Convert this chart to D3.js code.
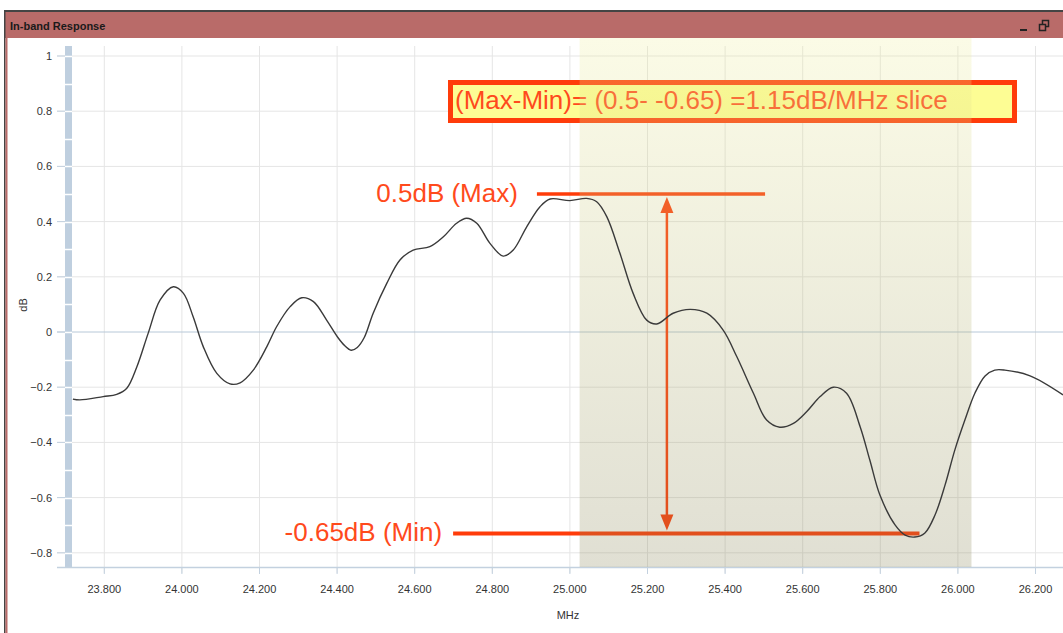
<!DOCTYPE html>
<html>
<head>
<meta charset="utf-8">
<script src="https://cdn.jsdelivr.net/npm/d3@7/dist/d3.min.js"></script>
<style>
  body { margin: 0; background: #fff; }
  svg { display: block; font-family: "Liberation Sans", Arial, sans-serif; }
</style>
</head>
<body>
<div id="viz"></div>
<script>
// curve: frequency (MHz) and response (dB)
var freq = [23.719, 23.737, 23.797, 23.832, 23.858, 23.884, 23.913, 23.944, 23.978, 24.004,
            24.029, 24.055, 24.090, 24.124, 24.150, 24.184, 24.219, 24.244, 24.279, 24.309,
            24.339, 24.373, 24.402, 24.420, 24.436, 24.452, 24.470, 24.493, 24.528, 24.562, 24.596, 24.639,
            24.674, 24.708, 24.734, 24.760, 24.794, 24.828, 24.854, 24.889, 24.923, 24.949,
            25.000, 25.043, 25.069, 25.095, 25.129, 25.163, 25.198, 25.224, 25.266, 25.310,
            25.353, 25.395, 25.430, 25.473, 25.507, 25.541, 25.576, 25.610, 25.645, 25.679,
            25.713, 25.748, 25.773, 25.799, 25.838, 25.864, 25.889, 25.915, 25.941, 25.967,
            25.992, 26.018, 26.044, 26.070, 26.095, 26.121, 26.186, 26.271];
var dB = [-0.243, -0.246, -0.234, -0.226, -0.204, -0.126, -0.005, 0.116, 0.164, 0.140,
          0.055, -0.053, -0.150, -0.188, -0.184, -0.138, -0.053, 0.019, 0.092, 0.124,
          0.110, 0.043, -0.020, -0.050, -0.066, -0.056, -0.020, 0.068, 0.176, 0.261, 0.297, 0.309,
          0.345, 0.394, 0.412, 0.394, 0.321, 0.275, 0.297, 0.382, 0.454, 0.482,
          0.476, 0.484, 0.472, 0.418, 0.285, 0.140, 0.043, 0.029, 0.068, 0.082,
          0.068, 0.007, -0.089, -0.222, -0.319, -0.345, -0.331, -0.289, -0.234, -0.200,
          -0.222, -0.343, -0.464, -0.591, -0.699, -0.736, -0.743, -0.728, -0.663, -0.554,
          -0.428, -0.319, -0.221, -0.159, -0.138, -0.138, -0.159, -0.228];

var xTicks = [23.8, 24.0, 24.2, 24.4, 24.6, 24.8, 25.0, 25.2, 25.4, 25.6, 25.8, 26.0, 26.2];
var yTicks = [-0.8, -0.6, -0.4, -0.2, 0, 0.2, 0.4, 0.6, 0.8, 1];
var yMinor = [-0.8, -0.7, -0.6, -0.5, -0.4, -0.3, -0.2, -0.1, 0, 0.1, 0.2, 0.3, 0.4, 0.5, 0.6, 0.7, 0.8, 0.9, 1];

// highlighted slice and annotation values
var slice = [25.025, 26.035];
var maxVal = 0.5, minVal = -0.73;
var maxLine = [24.915, 25.503];
var minLine = [24.699, 25.901];
var arrowAt = 25.25;
var title = "In-band Response";
var boxText = "(Max-Min)= (0.5- -0.65) =1.15dB/MHz slice";
var maxLabel = "0.5dB (Max)", minLabel = "-0.65dB (Min)";

var W = 1063, H = 633;
var plot = {left: 72, right: 1063, top: 46, bottom: 567};

var x = d3.scaleLinear().domain([23.8, 26.2]).range([104.3, 1035.5]);
var y = d3.scaleLinear().domain([-0.8, 1]).range([552.8, 56]);

var svg = d3.select('#viz').append('svg')
    .attr('width', W).attr('height', H);

var defs = svg.append('defs');
var grad = defs.append('linearGradient').attr('id', 'shade')
    .attr('x1', 0).attr('y1', 0).attr('x2', 0).attr('y2', 1);
grad.append('stop').attr('offset', '0%').attr('stop-color', '#efef9b');
grad.append('stop').attr('offset', '100%').attr('stop-color', '#837f4f');

defs.append('clipPath').attr('id', 'clip')
  .append('rect').attr('x', plot.left).attr('y', plot.top)
    .attr('width', plot.right - plot.left).attr('height', plot.bottom - plot.top);

// window frame
svg.append('rect').attr('x', 4).attr('y', 10).attr('width', W).attr('height', 2).attr('fill', '#444');
svg.append('rect').attr('x', 4).attr('y', 12).attr('width', W).attr('height', 26).attr('fill', '#b96b69');
svg.append('rect').attr('x', 4).attr('y', 10).attr('width', 1.5).attr('height', H).attr('fill', '#444');
svg.append('rect').attr('x', 5.5).attr('y', 38).attr('width', 2).attr('height', H).attr('fill', '#b96b69');

svg.append('text').attr('x', 10).attr('y', 30)
    .style('font-size', '11px').style('font-weight', 'bold').attr('fill', '#1a1a1a')
    .text(title);
svg.append('rect').attr('x', 1020).attr('y', 29).attr('width', 7).attr('height', 2).attr('fill', '#222');
svg.append('rect').attr('x', 1042.5).attr('y', 20.5).attr('width', 6).attr('height', 6)
    .attr('fill', 'none').attr('stroke', '#222').attr('stroke-width', 1.5);
svg.append('rect').attr('x', 1039.5).attr('y', 24.5).attr('width', 6).attr('height', 6)
    .attr('fill', '#b96b69').attr('stroke', '#222').attr('stroke-width', 1.5);

// grid
var grid = svg.append('g');
grid.selectAll('line.v').data(xTicks).enter().append('line')
    .attr('class', 'v')
    .attr('x1', function(d) { return x(d); }).attr('x2', function(d) { return x(d); })
    .attr('y1', plot.top).attr('y2', plot.bottom + 6)
    .attr('stroke', '#e5e5e5').attr('stroke-width', 1);
grid.selectAll('line.h').data(yTicks).enter().append('line')
    .attr('class', 'h')
    .attr('x1', 57).attr('x2', plot.right)
    .attr('y1', function(d) { return y(d); }).attr('y2', function(d) { return y(d); })
    .attr('stroke', function(d) { return d === 0 ? '#b7c8d8' : '#e5e5e5'; })
    .attr('stroke-width', 1);
// tick stubs
grid.selectAll('line.yt').data(yTicks).enter().append('line')
    .attr('x1', 57).attr('x2', 66)
    .attr('y1', function(d) { return y(d); }).attr('y2', function(d) { return y(d); })
    .attr('stroke', '#c3d1df');
grid.selectAll('line.xt').data(xTicks).enter().append('line')
    .attr('x1', function(d) { return x(d); }).attr('x2', function(d) { return x(d); })
    .attr('y1', plot.bottom).attr('y2', plot.bottom + 7)
    .attr('stroke', '#c3d1df');

// y axis band
svg.append('rect').attr('x', 65).attr('y', plot.top).attr('width', 7)
    .attr('height', plot.bottom - plot.top).attr('fill', '#bfcfdf');
svg.selectAll('line.minor').data(yMinor).enter().append('line')
    .attr('x1', 65).attr('x2', 72)
    .attr('y1', function(d) { return Math.round(y(d)) + 0.5; })
    .attr('y2', function(d) { return Math.round(y(d)) + 0.5; })
    .attr('stroke', '#fff').attr('stroke-width', 1.5);
svg.append('line').attr('x1', 57).attr('x2', plot.right)
    .attr('y1', plot.bottom + 0.5).attr('y2', plot.bottom + 0.5)
    .attr('stroke', '#c3d1df').attr('stroke-width', 1.5);

// tick labels
svg.selectAll('text.yl').data(yTicks).enter().append('text')
    .attr('x', 52).attr('y', function(d) { return y(d) + 4; })
    .attr('text-anchor', 'end').style('font-size', '11px').attr('fill', '#333')
    .text(function(d) { return d3.format('')(+d.toFixed(1)); });
svg.selectAll('text.xl').data(xTicks).enter().append('text')
    .attr('x', function(d) { return x(d); }).attr('y', 593)
    .attr('text-anchor', 'middle').style('font-size', '11px').attr('fill', '#333')
    .text(function(d) { return d3.format('.3f')(d); });
svg.append('text').attr('x', 568).attr('y', 619).attr('text-anchor', 'middle')
    .style('font-size', '11px').attr('fill', '#333').text('MHz');
svg.append('text').attr('transform', 'translate(27,305) rotate(-90)')
    .attr('text-anchor', 'middle').style('font-size', '11px').attr('fill', '#333').text('dB');

// annotations
var ann = svg.append('g');
var orange = '#ff3c0a';
ann.append('rect').attr('x', 450.5).attr('y', 82.5).attr('width', 564).attr('height', 38)
    .attr('fill', '#fdfd94').attr('stroke', orange).attr('stroke-width', 5);
ann.append('text').attr('x', 455).attr('y', 109)
    .style('font-size', '26px').attr('fill', '#ff4a1c').text(boxText);

ann.append('line').attr('x1', x(maxLine[0])).attr('x2', x(maxLine[1]))
    .attr('y1', y(maxVal)).attr('y2', y(maxVal))
    .attr('stroke', orange).attr('stroke-width', 3.5);
ann.append('line').attr('x1', x(minLine[0])).attr('x2', x(minLine[1]))
    .attr('y1', y(minVal)).attr('y2', y(minVal))
    .attr('stroke', orange).attr('stroke-width', 4);
ann.append('text').attr('x', x(maxLine[0]) - 19).attr('y', y(maxVal) + 8)
    .attr('text-anchor', 'end').style('font-size', '26px').attr('fill', '#ff4a1c').text(maxLabel);
ann.append('text').attr('x', x(minLine[0]) - 11).attr('y', y(minVal) + 8)
    .attr('text-anchor', 'end').style('font-size', '26px').attr('fill', '#ff4a1c').text(minLabel);

var ax = x(arrowAt), arrTop = y(maxVal) + 3, arrBot = y(minVal) - 3;
ann.append('line').attr('x1', ax).attr('x2', ax).attr('y1', arrTop + 10).attr('y2', arrBot - 10)
    .attr('stroke', orange).attr('stroke-width', 2.5);
ann.append('path')
    .attr('d', 'M' + ax + ',' + arrTop + 'L' + (ax - 6.5) + ',' + (arrTop + 16) + 'L' + (ax + 6.5) + ',' + (arrTop + 16) + 'Z')
    .attr('fill', orange);
ann.append('path')
    .attr('d', 'M' + ax + ',' + arrBot + 'L' + (ax - 6.5) + ',' + (arrBot - 16) + 'L' + (ax + 6.5) + ',' + (arrBot - 16) + 'Z')
    .attr('fill', orange);

// highlighted slice laid over
svg.append('rect').attr('x', x(slice[0])).attr('y', 38)
    .attr('width', x(slice[1]) - x(slice[0])).attr('height', plot.bottom - 38)
    .attr('fill', 'url(#shade)').attr('opacity', 0.25);

// response curve
var line = d3.line()
    .x(function(d, i) { return x(freq[i]); })
    .y(function(d) { return y(d); })
    .curve(d3.curveCatmullRom.alpha(0.5));
svg.append('path').datum(dB)
    .attr('clip-path', 'url(#clip)')
    .attr('d', line)
    .attr('fill', 'none').attr('stroke', '#3a3a3a').attr('stroke-width', 1.4);
</script>
</body>
</html>
